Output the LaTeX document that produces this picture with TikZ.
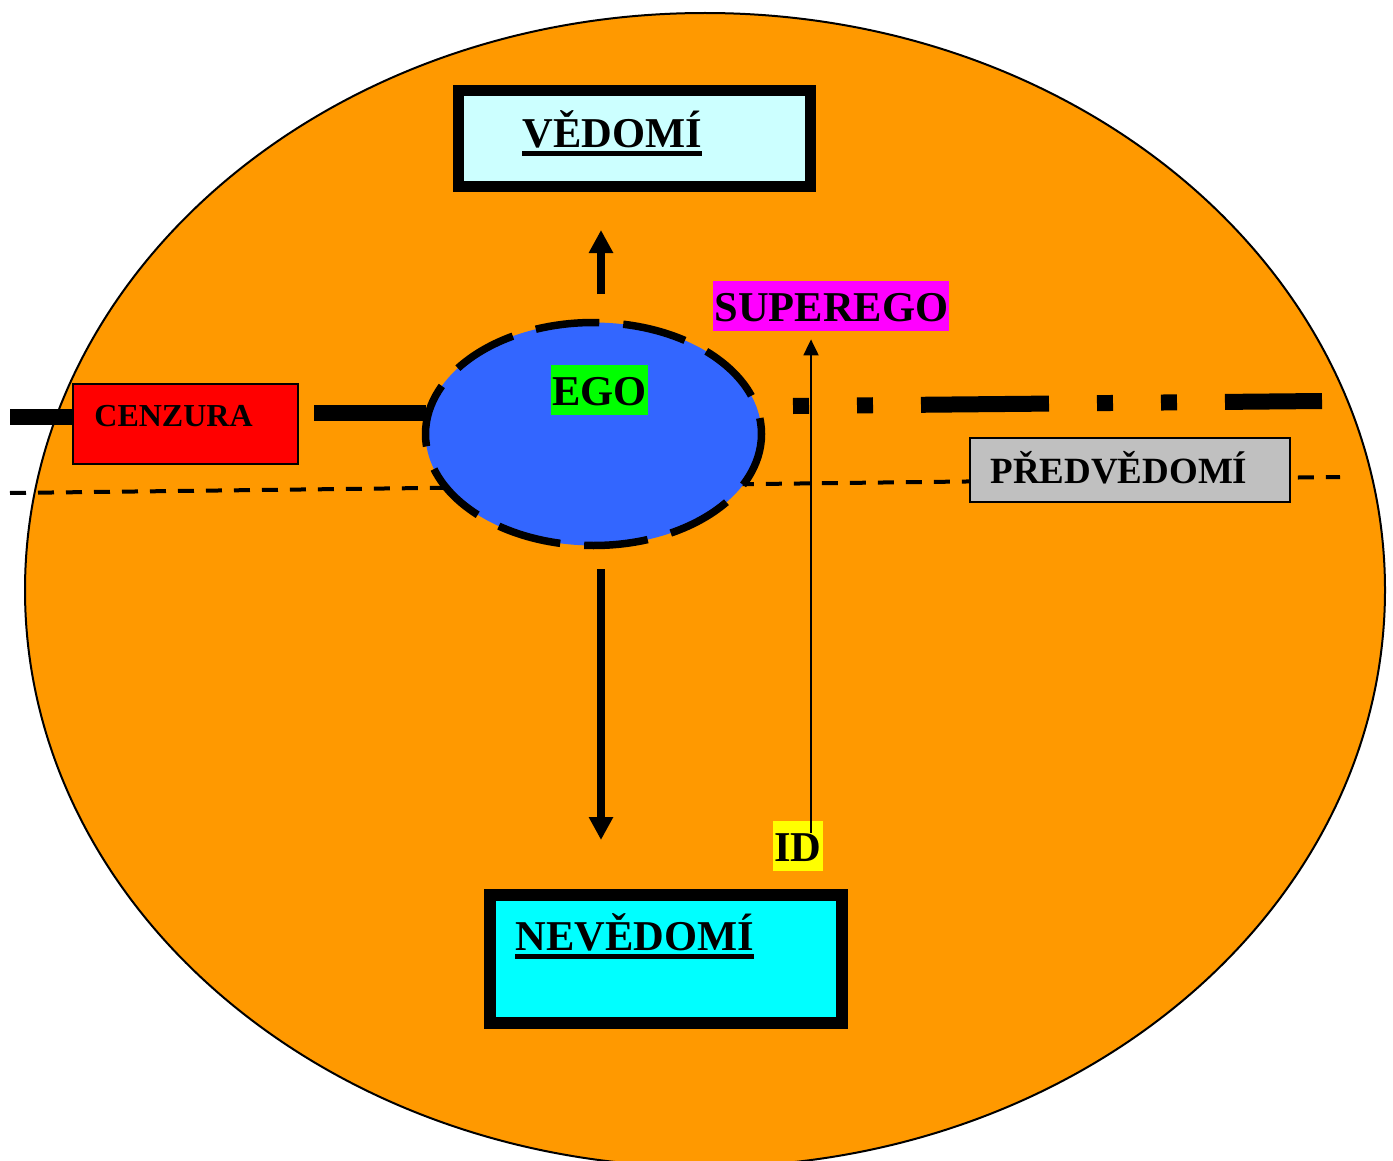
\documentclass[tikz,border=0pt]{standalone}
\usepackage{fontspec}
\setmainfont{Liberation Serif}
\usetikzlibrary{arrows.meta}
\usetikzlibrary{positioning}
\usetikzlibrary{shapes.geometric}
\definecolor{psycheorange}{HTML}{FF9900}
\definecolor{egoblue}{HTML}{3366FF}
\definecolor{egogreen}{HTML}{00FF00}
\definecolor{superegomagenta}{HTML}{FF00FF}
\definecolor{idyellow}{HTML}{FFFF00}
\definecolor{cenzurared}{HTML}{FF0000}
\definecolor{vedomicolor}{HTML}{CCFFFF}
\definecolor{nevedomicolor}{HTML}{00FFFF}
\definecolor{predcolor}{HTML}{C0C0C0}
\newcommand{\labelfont}[0]{\fontsize{21.25pt}{25pt}\selectfont\bfseries}
\newcommand{\titleline}[1]{\sbox0{#1}\usebox0\llap{\rule[-4.25pt]{\wd0}{2.5pt}}}

\begin{document}
\begin{tikzpicture}[x=0.5pt, y=-0.5pt,
    levelbox/.style={rectangle, draw=black, minimum width=176pt, outer sep=0pt},
    tag/.style={font=\labelfont, inner xsep=0.5pt, inner ysep=0pt,
        text height=20pt, text depth=5pt, anchor=base west},
    bigarrow/.style={line width=4pt, -{Triangle[length=11.5pt, width=11.5pt]}}]
    \useasboundingbox (0,0) rectangle (1393,1161);
    % psyche
    \draw[line width=1pt, fill=psycheorange] (705,590) ellipse [x radius=680, y radius=577];
    % boundary of the preconscious
    \coordinate (predstart) at (10,493);
    \coordinate (predend) at (1340,477);
    \draw[line width=2pt, dash pattern=on 8pt off 6pt] (predstart) -- (predend);
    % ego
    \node[ellipse, draw=black, line width=3.75pt, dash pattern=on 32pt off 12pt, dash phase=24pt,
        fill=egoblue, minimum width=168pt, minimum height=111.5pt, inner sep=0pt, outer sep=0pt]
        (ego) at (593.5,434) {};
    % censorship
    \node[rectangle, draw=black, line width=0.75pt, fill=cenzurared, minimum width=112.5pt,
        minimum height=40pt, outer sep=0pt]
        (cenzura) at (185.5,424) {};
    \node[font=\fontsize{16pt}{19pt}\selectfont\bfseries, inner sep=0pt, anchor=base west]
        (cenzuratext) at ([shift={(10.5pt,-21pt)}]cenzura.north west) {CENZURA};
    \coordinate (censorstart) at (10,416.5);
    \coordinate (censorgap) at (314,413);
    \draw[line width=8pt] (censorstart) -- (censorstart -| cenzura.west);
    \draw[line width=8pt] (censorgap) -- (censorgap -| ego.west);
    \coordinate (superstart) at (793,406);
    \coordinate (superend) at (1322,401);
    \draw[line width=8pt, dash pattern=on 64pt off 24pt on 8pt off 24pt on 8pt off 24pt,
        dash phase=88pt] (superstart) -- (superend);
    % levels
    \node[levelbox, line width=5.5pt, fill=vedomicolor, minimum height=48pt]
        (vedomi) at (634,139) {};
    \node[font=\labelfont, inner sep=0pt, anchor=base west]
        (vedomitext) at ([shift={(32pt,-28.25pt)}]vedomi.north west) {\titleline{VĚDOMÍ}};
    \node[levelbox, line width=6pt, fill=nevedomicolor, minimum height=64.25pt]
        (nevedomi) at (666,958.75) {};
    \node[font=\labelfont, inner sep=0pt, anchor=base west]
        (nevedomitext) at ([shift={(12.5pt,-27.75pt)}]nevedomi.north west) {\titleline{NEVĚDOMÍ}};
    \node[rectangle, draw=black, line width=1pt, fill=predcolor, minimum width=160pt,
        minimum height=32pt, outer sep=0pt]
        (predvedomi) at (1130,470) {};
    \node[font=\fontsize{18.5pt}{22pt}\selectfont\bfseries, inner sep=0pt, anchor=base west]
        (predvedomitext) at ([shift={(10pt,-22.5pt)}]predvedomi.north west) {PŘEDVĚDOMÍ};
    % instances
    \node[tag, fill=egogreen] (egotext) at (551,405) {EGO};
    \node[tag, fill=superegomagenta] (superego) at (713,321) {SUPEREGO};
    \node[tag, fill=idyellow] (id) at (773,861) {ID};
    % arrows
    \draw[bigarrow, shorten <=14.25pt, shorten >=21.5pt]
        ([xshift=3.75pt]ego.north) -- ([xshift=3.75pt]ego.north |- vedomi.south);
    \draw[bigarrow, shorten <=11.75pt, shorten >=27.25pt]
        ([xshift=3.75pt]ego.south) -- ([xshift=3.75pt]ego.south |- nevedomi.north);
    \draw[line width=1pt, -{Triangle[length=8pt, width=7.5pt]}, shorten >=4pt]
        ([xshift=6.5pt, yshift=-6pt]id.north) -- ([xshift=6.5pt]id.north |- superego.south);
\end{tikzpicture}
\end{document}
